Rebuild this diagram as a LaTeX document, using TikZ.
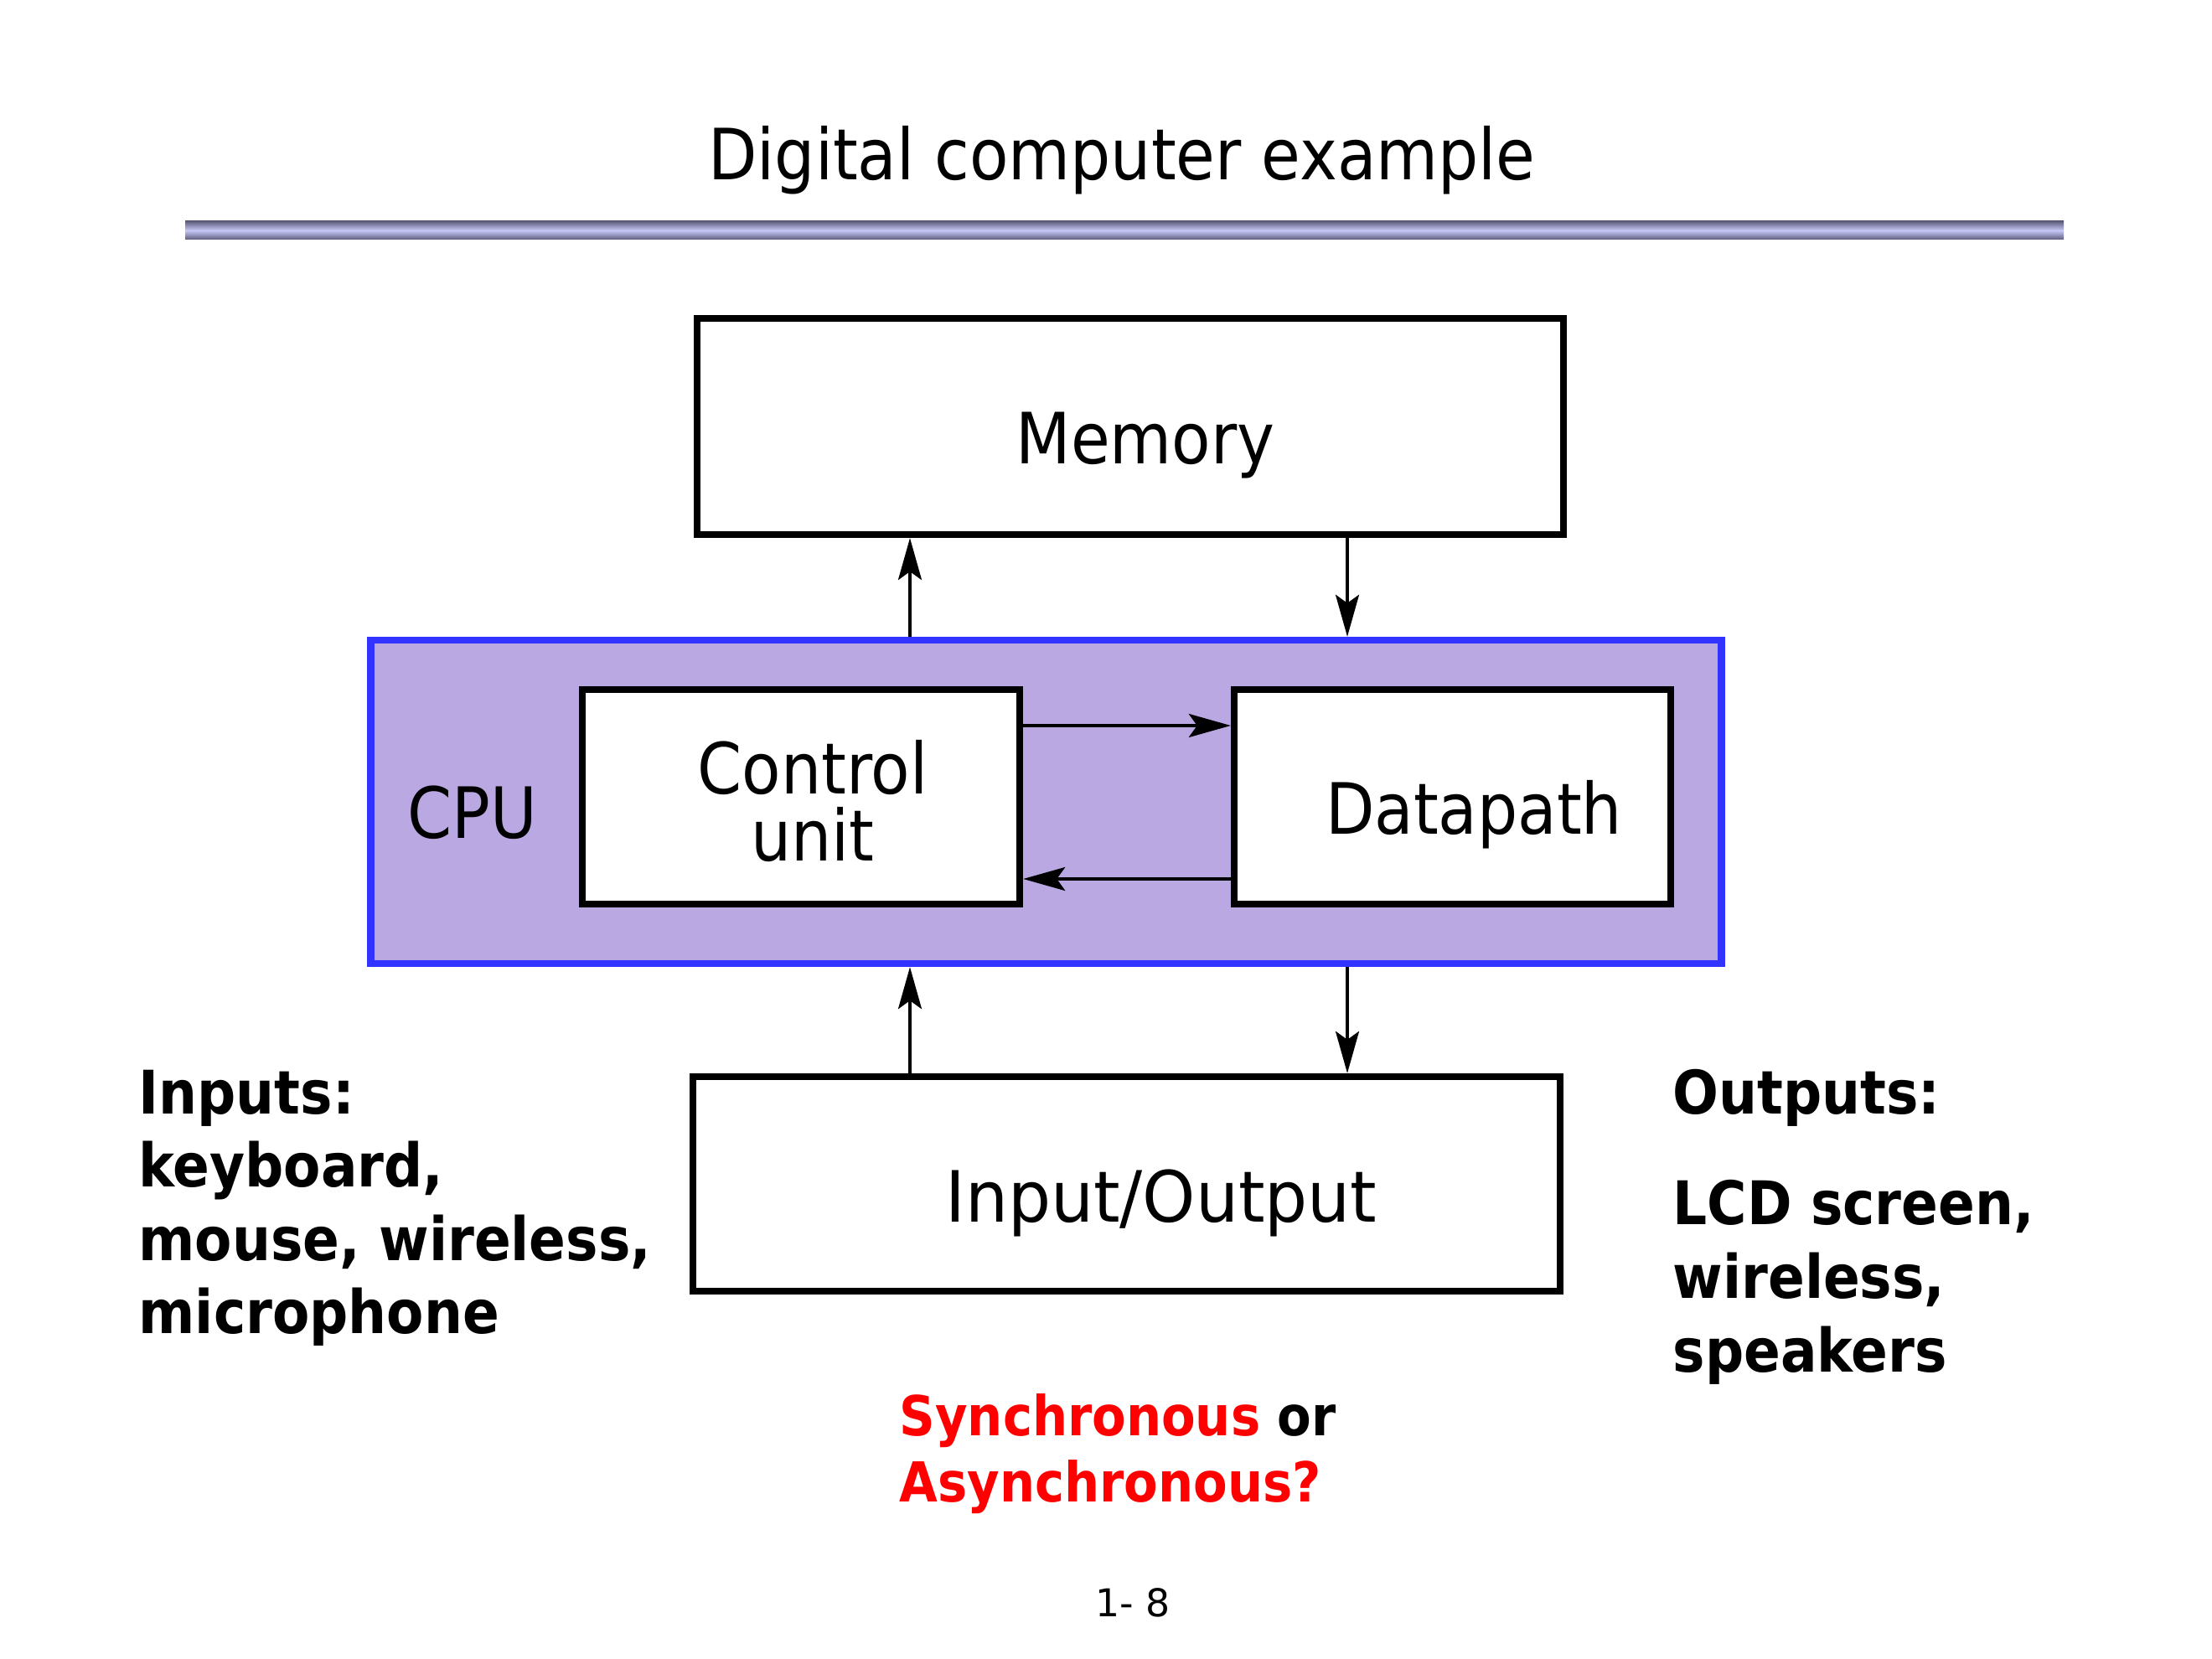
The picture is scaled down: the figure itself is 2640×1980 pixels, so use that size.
\documentclass[tikz,border=0pt]{standalone}
\usepackage{fontspec}
\usepackage{graphicx}
\setmainfont{DejaVu Sans Condensed}[BoldFont={DejaVu Sans Condensed Bold}]
\newfontfamily\pagenumfont{DejaVu Sans}
\usetikzlibrary{arrows.meta}
\definecolor{cpufill}{RGB}{186,168,226}
\definecolor{cpuedge}{RGB}{51,51,255}
\definecolor{bardark}{RGB}{92,92,124}
\definecolor{barlight}{RGB}{200,200,248}
\definecolor{qred}{RGB}{255,0,0}
\tikzset{
  blockbox/.style={draw=black, line width=2.3pt, fill=white, inner sep=0pt},
  cpubox/.style={draw=cpuedge, line width=2.3pt, fill=cpufill, inner sep=0pt},
  boxtext/.style={font=\fontsize{24}{22.5}\selectfont, inner sep=0pt, anchor=base},
  sidetext/.style={font=\fontsize{20.4}{24.9}\selectfont\bfseries, inner sep=0pt, align=left, anchor=north west},
  flow/.style={line width=1pt, -{Stealth[length=0.5cm, width=0.28cm, inset=0.1cm]}}
}
\begin{document}
\begin{tikzpicture}[x=0.01cm, y=-0.01cm]
\useasboundingbox (0,0) rectangle (2640,1980);
\fill[white] (0,0) rectangle (2640,1980);

% title and bar
\node[boxtext] (title) at (1339,215) {Digital computer example};
\shade[top color=bardark, bottom color=bardark, middle color=barlight] (221,264) rectangle (2463,286);

% blocks
\node[blockbox, minimum width=10.34cm, minimum height=2.58cm] (mem) at (1349,509) {};
\node[boxtext] (memt) at (1367,554) {Memory};
\node[cpubox, minimum width=16.11cm, minimum height=3.86cm] (cpu) at (1248.5,957) {};
\node[boxtext] (cput) at (564,1001) {CPU};
\node[blockbox, minimum width=5.22cm, minimum height=2.56cm] (ctrl) at (956,951) {};
\node[font=\fontsize{24}{22.5}\selectfont, inner sep=0pt, align=center] (ctrlt) at (970,956) {Control\\unit};
\node[blockbox, minimum width=5.21cm, minimum height=2.56cm] (dp) at (1733.5,951) {};
\node[boxtext] (dpt) at (1759,995) {Datapath};
\node[blockbox, minimum width=10.35cm, minimum height=2.56cm] (io) at (1344.5,1413) {};
\node[boxtext] (iot) at (1386,1458) {\scalebox{1.06}[1]{Input/Output}};

% connector columns / rows
\coordinate (cl) at (1086,0);
\coordinate (cr) at (1608,0);
\coordinate (ru) at (0,866);
\coordinate (rd) at (0,1049);

\draw[flow] (cpu.north -| cl) -- (mem.south -| cl);
\draw[flow] (mem.south -| cr) -- (cpu.north -| cr);
\draw[flow] (ctrl.east |- ru) -- (dp.west |- ru);
\draw[flow] (dp.west |- rd) -- (ctrl.east |- rd);
\draw[flow] (io.north -| cl) -- (cpu.south -| cl);
\draw[flow] (cpu.south -| cr) -- (io.north -| cr);

% side texts
\node[sidetext] (inputs) at (165,1276) {Inputs:\\keyboard,\\mouse, wireless,\\microphone};
\node[sidetext] (outhead) at (1996,1276) {Outputs:};
\node[sidetext] (outs) at (1996,1408) {LCD screen,\\wireless,\\speakers};
\node[sidetext, font=\fontsize{18.7}{22.5}\selectfont\bfseries] (sync) at (1073,1663) {\textcolor{qred}{Synchronous} or\\\textcolor{qred}{Asynchronous?}};

\node[font=\pagenumfont\fontsize{13}{15}\selectfont, inner sep=0pt] (page) at (1352,1913) {1- 8};
\end{tikzpicture}
\end{document}
